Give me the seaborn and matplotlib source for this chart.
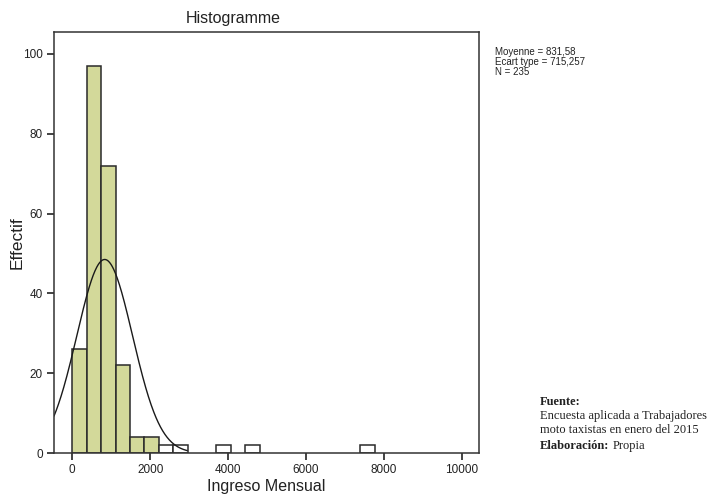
import numpy as np
import pandas as pd
import seaborn as sns
import matplotlib
matplotlib.use("Agg")
from matplotlib import pyplot as plt

# histogram data (bin index -> count), bin width ~370
bin_width = 370
bin_index = [0, 1, 2, 3, 4, 5, 6, 7, 10, 12, 20]
counts = [26, 97, 72, 22, 4, 4, 2, 2, 2, 2, 2]
n_green = 6  # first six bins are filled

mean_val = 831.58
std_val = 715.257
n_total = 235

x_ticks = [0, 2000, 4000, 6000, 8000, 10000]
y_ticks = [0, 20, 40, 60, 80, 100]

sns.set_style("ticks")
plt.rcParams['font.family'] = ['Liberation Sans', 'DejaVu Sans']

df = pd.DataFrame({"centre": [(i + 0.5) * bin_width for i in bin_index],
                   "count": counts})

fig = plt.figure(figsize=(7.27, 4.97), dpi=100)
ax = fig.add_axes([54 / 727, 44 / 497, 425 / 727, 421 / 497])

sns.histplot(data=df, x="centre", weights="count", binwidth=bin_width,
             binrange=(0, 21 * bin_width), ax=ax,
             color="#d3d99a", alpha=1, edgecolor="#2a2a2a", linewidth=1.1)
# bars past 2000 are left unfilled, as in the original
for i, p in enumerate(ax.patches):
    if i >= n_green:
        p.set_facecolor("white")
    if p.get_height() == 0:
        p.set_visible(False)

# normal curve scaled to counts
xs = np.linspace(-470, 2950, 300)
ys = n_total * bin_width * np.exp(-0.5 * ((xs - mean_val) / std_val) ** 2) / (std_val * np.sqrt(2 * np.pi))
sns.lineplot(x=xs, y=ys, ax=ax, color="#1a1a1a", linewidth=1.0)

ax.set_xlim(-470, 10444)
ax.set_ylim(0, 105.5)
ax.set_xticks(x_ticks)
ax.set_yticks(y_ticks)
ax.tick_params(axis="both", labelsize=8.5, length=5, width=1.2, color="#222222",
               labelcolor="#222222", direction="out", pad=3)
for s in ax.spines.values():
    s.set_linewidth(1.1)
    s.set_color("#333333")
ax.set_xlabel("Ingreso Mensual", fontsize=11.5, color="#222222")
ax.set_ylabel("Effectif", fontsize=12.5, color="#222222")
ax.xaxis.set_label_coords(0.5, -0.062)
ax.yaxis.set_label_coords(-0.07, 0.5)

fig.text(233 / 727, 1 - 18 / 497, "Histogramme", fontsize=11.5, ha="center", va="center", color="#222222")

fig.text(495 / 727, 1 - 47 / 497, "Moyenne = 831,58\nEcart type = 715,257\nN = 235",
         fontsize=7, ha="left", va="top", linespacing=1.0, color="#222222",
         family=['Liberation Sans Narrow', 'Liberation Sans', 'DejaVu Sans'], stretch="condensed")

serif = ['Liberation Serif', 'DejaVu Serif']
fig.text(540 / 727, 1 - 396 / 497, "Fuente:", fontsize=9, fontweight="bold", ha="left", va="top",
         family=serif, color="#222222")
fig.text(540 / 727, 1 - 410 / 497, "Encuesta aplicada a Trabajadores\nmoto taxistas en enero del 2015",
         fontsize=9, ha="left", va="top", family=serif, linespacing=1.25, color="#222222")
t = fig.text(540 / 727, 1 - 440 / 497, "Elaboración:", fontsize=9, fontweight="bold", ha="left", va="top",
             family=serif, color="#222222")
fig.canvas.draw()
bb = t.get_window_extent()
fig.text((bb.x1 + 3) / 727, 1 - 440 / 497, "Propia", fontsize=9, ha="left", va="top",
         family=serif, color="#222222")

fig.savefig("out.png", dpi=100)
